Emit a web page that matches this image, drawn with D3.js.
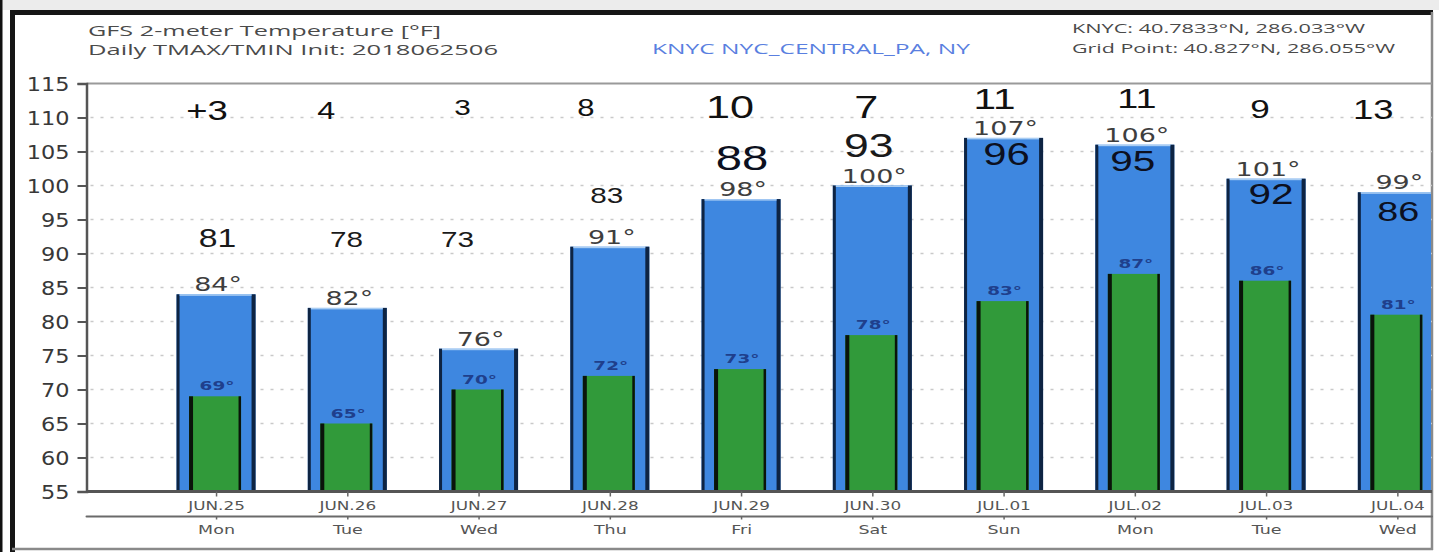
<!DOCTYPE html>
<html><head><meta charset="utf-8">
<script src="https://cdn.jsdelivr.net/npm/d3@7"></script>
<style>body{margin:0;background:#fff;} svg{display:block;}</style>
</head><body><svg id="c" width="1439" height="552"></svg>
<script>
// ---------------- data ----------------
const days = ["JUN.25","JUN.26","JUN.27","JUN.28","JUN.29","JUN.30","JUL.01","JUL.02","JUL.03","JUL.04"];
const weekdays = ["Mon","Tue","Wed","Thu","Fri","Sat","Sun","Mon","Tue","Wed"];
const tmax = [84,82,76,91,98,100,107,106,101,99];
const tmin = [69,65,70,72,73,78,83,87,86,81];
const observed = [81,78,73,83,88,93,96,95,92,86];
const diffLabels = ["+3","4","3","8","10","7","11","11","9","13"];
const yTicks = [55,60,65,70,75,80,85,90,95,100,105,110,115];

// hand-written overlay placement (dx in px from the day centre, y in °F, font px)
const diffDx = [-9,-21,-16,-24,-11,-6,-9,2,-6,-24];
const diffY = [111.0,111.0,111.6,111.5,111.6,111.6,112.8,112.9,111.3,111.2];
const diffSize = [27,24,22,23,32,32,30,28,26,27];
const obsDx = [1.5,-0.7,-21,-3,1,-3.5,3,-2,5,1];
const obsY = [92.35,92.13,92.13,98.53,104.1,105.95,104.6,103.7,98.8,96.2];
const obsSize = [25,22,22,22,35,33,31,30,30,28];

// ---------------- layout ----------------
const svg = d3.select("#c");
const L = 86.5, R = 1432, T = 83.5, B = 491.5;
const x = d3.scaleLinear().domain([-0.987, 9.264]).range([L, R]);
const y = d3.scaleLinear().domain([55, 115]).range([B, T]);
const idx = d3.range(days.length);
const SX = 1.42;

// frame
svg.append("rect").attr("x",0).attr("y",0).attr("width",1439).attr("height",10).attr("fill","#ececec");
svg.append("rect").attr("x",0).attr("y",0).attr("width",2.5).attr("height",552).attr("fill","#111");
svg.append("rect").attr("x",10).attr("y",10).attr("width",1423).attr("height",5).attr("fill","#151515");
svg.append("rect").attr("x",10).attr("y",10).attr("width",5).attr("height",542).attr("fill","#151515");
svg.append("line").attr("x1",1432).attr("x2",1432).attr("y1",12).attr("y2",550).attr("stroke","#8a8a8a").attr("stroke-width",2.5);
svg.append("line").attr("x1",12).attr("x2",1433).attr("y1",549).attr("y2",549).attr("stroke","#8a8a8a").attr("stroke-width",2.5);

// header
svg.append("text").attr("x",88).attr("y",36).attr("font-family","Open Sans").attr("font-size",15)
  .attr("fill","#4a4a4a").attr("textLength",353).attr("lengthAdjust","spacingAndGlyphs").text("GFS 2-meter Temperature [°F]");
svg.append("text").attr("x",88).attr("y",54.5).attr("font-family","Open Sans").attr("font-size",15)
  .attr("fill","#4a4a4a").attr("textLength",410).attr("lengthAdjust","spacingAndGlyphs").text("Daily TMAX/TMIN Init: 2018062506");
svg.append("text").attr("x",652).attr("y",54).attr("font-family","Open Sans").attr("font-size",14)
  .attr("fill","#5a7fe0").attr("textLength",318).attr("lengthAdjust","spacingAndGlyphs").text("KNYC NYC_CENTRAL_PA, NY");
svg.append("text").attr("x",1072).attr("y",33).attr("font-family","Open Sans").attr("font-size",12)
  .attr("fill","#4a4a4a").attr("textLength",293).attr("lengthAdjust","spacingAndGlyphs").text("KNYC: 40.7833°N, 286.033°W");
svg.append("text").attr("x",1072).attr("y",53).attr("font-family","Open Sans").attr("font-size",12)
  .attr("fill","#4a4a4a").attr("textLength",323).attr("lengthAdjust","spacingAndGlyphs").text("Grid Point: 40.827°N, 286.055°W");

// plot top border
svg.append("line").attr("x1",L).attr("x2",R).attr("y1",T).attr("y2",T).attr("stroke","#9a9a9a").attr("stroke-width",2);

// grid
svg.append("g").selectAll("line").data(yTicks.filter(v => v > 55 && v < 115)).join("line")
  .attr("x1",L+4).attr("x2",R).attr("y1",d=>y(d)).attr("y2",d=>y(d))
  .attr("stroke","#c9c9c9").attr("stroke-width",1.6).attr("stroke-dasharray","3,7");

// clip
svg.append("clipPath").attr("id","clip").append("rect").attr("x",L).attr("y",T).attr("width",R-L-1).attr("height",B-T);
const bars = svg.append("g").attr("clip-path","url(#clip)");

const BW = 79, GW = 52;
// TMAX bars
bars.selectAll("rect.max").data(idx).join("rect").attr("class","max")
  .attr("x",i=>x(i)-BW/2).attr("width",BW).attr("y",i=>y(tmax[i])).attr("height",i=>y(55)-y(tmax[i]))
  .attr("fill","#3e87e0");
bars.selectAll("rect.maxl").data(idx).join("rect").attr("class","maxl")
  .attr("x",i=>x(i)-BW/2).attr("width",3).attr("y",i=>y(tmax[i])).attr("height",i=>y(55)-y(tmax[i])).attr("fill","#0e2443");
bars.selectAll("rect.maxr").data(idx).join("rect").attr("class","maxr")
  .attr("x",i=>x(i)+BW/2-4).attr("width",4).attr("y",i=>y(tmax[i])).attr("height",i=>y(55)-y(tmax[i])).attr("fill","#0e2443");
bars.selectAll("rect.maxt").data(idx).join("rect").attr("class","maxt")
  .attr("x",i=>x(i)-BW/2+3).attr("width",BW-7).attr("y",i=>y(tmax[i])).attr("height",1.5).attr("fill","#a9cdf3");
// TMIN bars
bars.selectAll("rect.min").data(idx).join("rect").attr("class","min")
  .attr("x",i=>x(i)-GW/2-1).attr("width",GW).attr("y",i=>y(tmin[i])).attr("height",i=>y(55)-y(tmin[i]))
  .attr("fill","#319a3a");
bars.selectAll("rect.minl").data(idx).join("rect").attr("class","minl")
  .attr("x",i=>x(i)-GW/2-1).attr("width",4).attr("y",i=>y(tmin[i])).attr("height",i=>y(55)-y(tmin[i])).attr("fill","#0a140a");
bars.selectAll("rect.minr").data(idx).join("rect").attr("class","minr")
  .attr("x",i=>x(i)+GW/2-3.5).attr("width",2.5).attr("y",i=>y(tmin[i])).attr("height",i=>y(55)-y(tmin[i])).attr("fill","#0a140a");

// axes
const yAxis = svg.append("g").attr("transform",`translate(${L},0)`)
  .call(d3.axisLeft(y).tickValues(yTicks).tickSize(9).tickPadding(0));
yAxis.select(".domain").attr("stroke","#555").attr("stroke-width",2.5);
yAxis.selectAll(".tick line").attr("stroke","#555").attr("stroke-width",2);
yAxis.selectAll(".tick text").attr("x",0).attr("dy","0.36em")
  .attr("transform",`translate(-17,0) scale(1.12,1)`)
  .attr("font-family","DejaVu Sans").attr("font-size",20).attr("fill","#383838");

const xAxis = svg.append("g").attr("transform",`translate(0,${B})`)
  .call(d3.axisBottom(x).tickValues(idx).tickFormat(i=>days[i]).tickSize(5).tickPadding(0));
xAxis.select(".domain").attr("d",`M${L},0H${R}`).attr("stroke","#555").attr("stroke-width",3);
xAxis.selectAll(".tick line").attr("stroke","#666").attr("stroke-width",1.5);
xAxis.selectAll(".tick text").attr("y",0).attr("dy","0.36em")
  .attr("transform",`translate(0,13.5) scale(1.35,1)`)
  .attr("font-family","DejaVu Sans").attr("font-size",12.5).attr("fill","#555");

const xAxis2 = svg.append("g").attr("transform",`translate(0,516.5)`)
  .call(d3.axisBottom(x).tickValues(idx).tickFormat(i=>weekdays[i]).tickSize(3).tickPadding(0));
xAxis2.select(".domain").attr("d",`M${L},0H${R}`).attr("stroke","#6a6a6a").attr("stroke-width",2).attr("stroke-linecap","round");
xAxis2.selectAll(".tick line").attr("stroke","#666").attr("stroke-width",1.5);
xAxis2.selectAll(".tick text").attr("y",0).attr("dy","0.36em")
  .attr("transform",`translate(0,12.5) scale(1.4,1)`)
  .attr("font-family","DejaVu Sans").attr("font-size",12.5).attr("fill","#555");

// value labels
svg.append("g").selectAll("text").data(idx).join("text")
  .attr("text-anchor","middle").attr("font-family","DejaVu Sans").attr("font-size",19).attr("fill","#3e3e3e")
  .attr("transform",i=>`translate(${x(i)+2},${y(tmax[i])-3}) scale(${SX},1)`)
  .text(i=>tmax[i]+"°");
svg.append("g").selectAll("text").data(idx).join("text")
  .attr("text-anchor","middle").attr("font-family","DejaVu Sans").attr("font-weight","bold").attr("font-size",13).attr("fill","#1f3f8c")
  .attr("transform",i=>`translate(${x(i)+1},${y(tmin[i])-6}) scale(${SX},1)`)
  .text(i=>tmin[i]+"°");

// hand-written overlays
svg.append("g").selectAll("text").data(idx).join("text")
  .attr("text-anchor","middle").attr("dy","0.36em").attr("font-family","Liberation Sans").attr("fill","#111")
  .attr("font-size",i=>diffSize[i])
  .attr("transform",i=>`translate(${x(i)+diffDx[i]},${y(diffY[i])}) scale(1.35,1)`)
  .text(i=>diffLabels[i]);
svg.append("g").selectAll("text").data(idx).join("text")
  .attr("text-anchor","middle").attr("dy","0.36em").attr("font-family","Liberation Sans").attr("fill",i=>observed[i]<tmax[i]-8?"#0c1020":"#1a1a1a")
  .attr("font-size",i=>obsSize[i])
  .attr("transform",i=>`translate(${x(i)+obsDx[i]},${y(obsY[i])}) scale(1.35,1)`)
  .text(i=>observed[i]);
</script></body></html>
